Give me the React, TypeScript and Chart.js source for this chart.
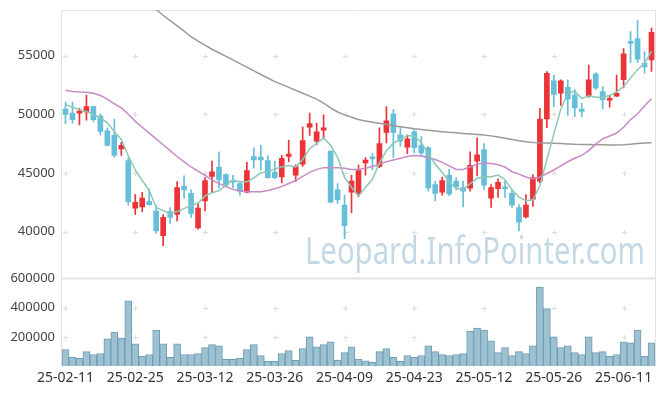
import React, { useEffect, useRef } from 'react';
import { Chart, registerables } from 'chart.js';

Chart.register(...registerables);

const dates = [
  '25-02-11','25-02-12','25-02-13','25-02-14','25-02-17','25-02-18','25-02-19','25-02-20','25-02-21','25-02-24',
  '25-02-25','25-02-26','25-02-27','25-02-28','25-03-04','25-03-05','25-03-06','25-03-07','25-03-10','25-03-11',
  '25-03-12','25-03-13','25-03-14','25-03-17','25-03-18','25-03-19','25-03-20','25-03-21','25-03-24','25-03-25',
  '25-03-26','25-03-27','25-03-28','25-03-31','25-04-01','25-04-02','25-04-03','25-04-04','25-04-07','25-04-08',
  '25-04-09','25-04-10','25-04-11','25-04-14','25-04-15','25-04-16','25-04-17','25-04-18','25-04-21','25-04-22',
  '25-04-23','25-04-24','25-04-25','25-04-28','25-04-29','25-04-30','25-05-02','25-05-07','25-05-08','25-05-09',
  '25-05-12','25-05-13','25-05-14','25-05-15','25-05-16','25-05-19','25-05-20','25-05-21','25-05-22','25-05-23',
  '25-05-26','25-05-27','25-05-28','25-05-29','25-05-30','25-06-02','25-06-04','25-06-05','25-06-09','25-06-10',
  '25-06-11','25-06-12','25-06-13','25-06-16','25-06-17'
];

const opens = [
  50450,50100,50100,50200,50650,49850,48600,48200,47050,46050,
  42000,42100,42550,41750,39650,41700,41450,43850,43250,40300,
  42600,44700,45500,44850,44350,44100,43350,46400,46350,46050,
  45050,44650,46400,44800,45750,48900,47700,48650,46850,43550,
  42250,43350,43200,45850,46300,45550,48450,50050,48250,47200,
  48500,47350,47150,44000,43350,44800,44300,43750,43700,46000,
  47000,42850,43650,43800,43250,42050,41250,42750,44300,49600,
  52850,51800,52300,51650,50450,51550,53450,51950,51200,51550,
  52950,56200,56450,54350,54650
];

const highs = [
  51050,51050,50500,51650,50700,50050,48850,49600,47600,46250,
  43150,43350,43650,42250,41450,42050,44250,44750,43550,42450,
  44600,46000,46800,44950,44800,44300,45900,47150,47350,46450,
  46000,46500,47800,45700,48900,50100,49250,49950,46900,44100,
  43100,44800,45700,46300,46700,48850,50650,50400,48950,48250,
  48700,48100,47250,44300,44650,45300,44600,44300,46800,48000,
  47500,44000,44500,44300,43600,42300,43150,44850,50500,53650,
  53350,52950,52950,52100,50950,54200,53550,52350,51650,53350,
  55600,57050,58000,55350,57350
];

const lows = [
  49200,49250,49100,49500,49350,48250,47300,46350,46500,42250,
  41450,41700,42250,39850,38800,40700,40900,42850,41200,40200,
  41750,43400,43700,43800,43750,43100,43300,45400,45250,44550,
  44500,44150,45950,44250,45550,48200,47400,47900,42450,42400,
  39400,41600,42950,44800,45250,45450,47550,46300,47250,46650,
  46700,46400,43450,42600,43100,43050,43550,42100,43450,44750,
  43600,42050,42900,42900,42050,40050,41150,42150,44150,48850,
  50650,50750,49900,49800,49800,51450,52100,50450,50600,51500,
  52250,54400,54400,53500,53650
];

const closes = [
  50000,49550,50250,50650,49550,48550,47350,46500,47350,42550,
  42500,42850,42300,40050,41200,41200,43750,43550,41550,42000,
  44350,45100,44400,43950,44200,43450,45200,46100,46100,44600,
  44600,46250,46600,45550,47750,49200,48500,48850,42500,42700,
  40500,44300,45200,46100,46200,47500,49450,48450,47700,47900,
  47150,46700,43700,43250,44350,43200,43800,43450,45650,46550,
  43950,43750,44200,43650,42250,40800,42250,44600,49600,53500,
  51700,52850,51300,50550,50250,52950,52250,51250,51300,51800,
  55150,56050,54700,54050,57000
];

const volumes = [
  113000,60000,53000,100000,80000,87000,187000,233000,193000,447000,
  153000,67000,80000,247000,153000,60000,153000,80000,80000,87000,
  127000,147000,140000,47000,47000,53000,113000,147000,73000,33000,
  33000,87000,107000,40000,120000,200000,133000,147000,167000,42000,
  93000,133000,49000,36000,27000,100000,120000,60000,33000,73000,
  60000,73000,140000,100000,80000,73000,80000,87000,240000,260000,
  247000,173000,93000,127000,73000,100000,87000,140000,540000,393000,
  200000,127000,140000,93000,80000,200000,93000,100000,67000,80000,
  167000,160000,247000,67000,160000
];

const ma5 = [
  50850,50600,50400,50250,50000,49710,49270,48520,47860,46460,
  45250,44350,43510,42050,41780,41520,41700,41950,42250,42410,
  43040,43310,43480,43960,44400,44220,44240,44580,45010,45090,
  45320,45530,45630,45520,46150,47070,47520,47970,47360,46350,
  44610,43770,43040,43760,44460,45860,46890,47540,47860,48200,
  48130,47580,46630,45740,45030,44240,43660,43610,44090,44530,
  44680,44670,44820,44420,43560,42930,42630,42710,43900,46150,
  48330,50450,51790,51980,51330,51580,51460,51450,51600,51910,
  52350,53110,53800,54350,55390
];

const ma20 = [
  52050,51950,51900,51880,51800,51600,51300,50900,50550,50000,
  49400,48900,48400,47900,47400,46900,46400,45950,45520,45150,
  44800,44400,44100,43850,43600,43450,43400,43400,43400,43500,
  43650,43850,44100,44350,44700,45050,45300,45450,45450,45450,
  45400,45300,45300,45400,45550,45750,45950,46100,46250,46400,
  46480,46450,46300,46150,45900,45600,45300,45300,45500,45750,
  45850,45800,45700,45500,45100,44900,44650,44500,44650,44950,
  45250,45600,45950,46250,46500,46900,47450,47900,48150,48400,
  48900,49550,50050,50700,51350
];

const ma60 = [
  null,null,null,null,null,null,null,null,null,null,
  null,null,59450,58920,58450,58000,57550,57100,56620,56250,
  55900,55550,55250,54950,54640,54330,54020,53700,53400,53100,
  52790,52550,52300,52050,51800,51550,51300,50950,50550,50200,
  49950,49750,49560,49420,49320,49230,49130,49030,48940,48850,
  48760,48700,48640,48580,48520,48460,48420,48370,48330,48280,
  48240,48160,48060,47960,47850,47740,47650,47600,47570,47560,
  47540,47500,47470,47440,47430,47420,47410,47400,47390,47390,
  47400,47450,47500,47550,47570
];

const priceTicks = [40000, 45000, 50000, 55000];
const volumeTicks = [200000, 400000, 600000];
const watermark = 'Leopard.InfoPointer.com';

const UP = '#ec3338';
const DOWN = '#66bfd8';

const decorPlugin = {
  id: 'decor',
  beforeDatasetsDraw(chart: any) {
    const { ctx, chartArea, scales } = chart;
    const { left, right } = chartArea;
    const x = scales.x, y = scales.y, yv = scales.yv;
    const top = Math.min(y.top, yv.top);
    const bottom = Math.max(y.bottom, yv.bottom);
    ctx.save();
    ctx.strokeStyle = '#dddddd';
    ctx.lineWidth = 1;
    const cross = (px: number, py: number) => {
      ctx.beginPath();
      ctx.moveTo(Math.round(px) - 2, Math.round(py) + 0.5);
      ctx.lineTo(Math.round(px) + 3, Math.round(py) + 0.5);
      ctx.moveTo(Math.round(px) + 0.5, Math.round(py) - 2);
      ctx.lineTo(Math.round(px) + 0.5, Math.round(py) + 3);
      ctx.stroke();
    };
    for (let i = 0; i < dates.length; i += 10) {
      const px = x.getPixelForValue(i);
      priceTicks.forEach((t) => cross(px, y.getPixelForValue(t)));
      volumeTicks.slice(0, 2).forEach((t) => cross(px, yv.getPixelForValue(t)));
    }
    ctx.font = '38px "Noto Sans"';
    const w = ctx.measureText(watermark).width;
    ctx.fillStyle = '#c4d8e5';
    ctx.translate(right - 350, y.bottom - 14);
    ctx.scale(340 / w, 1);
    ctx.textBaseline = 'alphabetic';
    ctx.fillText(watermark, 0, 0);
    ctx.restore();

    ctx.save();
    ctx.strokeStyle = '#e2e2e2';
    ctx.lineWidth = 1;
    ctx.beginPath();
    ctx.moveTo(left - 0.5, top);
    ctx.lineTo(left - 0.5, bottom);
    ctx.moveTo(left, top + 0.5);
    ctx.lineTo(right, top + 0.5);
    ctx.moveTo(right + 0.5, top);
    ctx.lineTo(right + 0.5, bottom);
    ctx.stroke();
    ctx.lineWidth = 2;
    ctx.beginPath();
    ctx.moveTo(left, yv.top);
    ctx.lineTo(right, yv.top);
    ctx.stroke();
    ctx.restore();
  },
};

export default function App() {
  const ref = useRef<HTMLCanvasElement | null>(null);

  useEffect(() => {
    if (!ref.current) return;
    const colors = closes.map((c, i) => (c >= opens[i] ? UP : DOWN));
    const wicks = highs.map((h, i) => [lows[i], h]);
    const bodies = closes.map((c, i) => [Math.min(opens[i], c), Math.max(opens[i], c)]);
    const labelFont = { family: '"Noto Sans", sans-serif', size: 13 };
    const fitY = (s: any) => { s.width = 62; s.paddingTop = 0; s.paddingBottom = 0; };

    const chart = new Chart(ref.current, {
      data: {
        labels: dates,
        datasets: [
          { type: 'line', data: ma5, yAxisID: 'y', borderColor: '#8ac8b7', borderWidth: 1.5, pointRadius: 0, order: 0 },
          { type: 'line', data: ma20, yAxisID: 'y', borderColor: '#c88bc6', borderWidth: 1.5, pointRadius: 0, order: 0 },
          { type: 'line', data: ma60, yAxisID: 'y', borderColor: '#9a9a9a', borderWidth: 1.5, pointRadius: 0, order: 0, spanGaps: false },
          { type: 'bar', data: wicks, yAxisID: 'y', backgroundColor: colors, barThickness: 1, grouped: false, order: 2 },
          { type: 'bar', data: bodies, yAxisID: 'y', backgroundColor: colors, barThickness: 5, minBarLength: 2, grouped: false, order: 1 },
          {
            type: 'bar', data: volumes, yAxisID: 'yv', backgroundColor: '#9cc1d1', borderColor: '#6f9cb3',
            borderWidth: 1, barPercentage: 1, categoryPercentage: 1, grouped: false, order: 3,
          },
        ] as any,
      },
      options: {
        responsive: false,
        animation: false,
        layout: { padding: { top: 10, right: 10, bottom: 7, left: 0 } },
        plugins: { legend: { display: false }, tooltip: { enabled: false } },
        scales: {
          yv: {
            type: 'linear',
            position: 'left',
            stack: 'main',
            stackWeight: 88,
            min: 0,
            max: 600000,
            grid: { display: false, drawTicks: false },
            border: { display: false },
            afterBuildTicks: (s: any) => { s.ticks = volumeTicks.map((v) => ({ value: v })); },
            afterFit: fitY,
            ticks: { padding: 7, color: '#444', font: labelFont, callback: (v: any) => String(v) },
          },
          y: {
            type: 'linear',
            position: 'left',
            stack: 'main',
            stackWeight: 269,
            min: 36000,
            max: 58900,
            grid: { display: false, drawTicks: false },
            border: { display: false },
            afterBuildTicks: (s: any) => { s.ticks = priceTicks.map((v) => ({ value: v })); },
            afterFit: fitY,
            ticks: { padding: 7, color: '#444', font: labelFont, callback: (v: any) => String(v) },
          },
          x: {
            type: 'category',
            offset: true,
            grid: { display: false, drawTicks: false },
            border: { display: false },
            afterFit: (s: any) => { s.paddingLeft = 0; s.paddingRight = 0; },
            ticks: {
              autoSkip: false,
              maxRotation: 0,
              padding: 3,
              color: '#333',
              font: { family: '"Noto Sans", sans-serif', size: 14 },
              callback: (_v: any, i: number) => (i % 10 === 0 ? dates[i] : null),
            },
          },
        },
      } as any,
      plugins: [decorPlugin],
    });
    return () => chart.destroy();
  }, []);

  return (
    <div style={{ position: 'fixed', left: 0, top: 0, width: 665, height: 396, background: '#fff' }}>
      <canvas ref={ref} width={665} height={396} style={{ display: 'block' }} />
    </div>
  );
}
